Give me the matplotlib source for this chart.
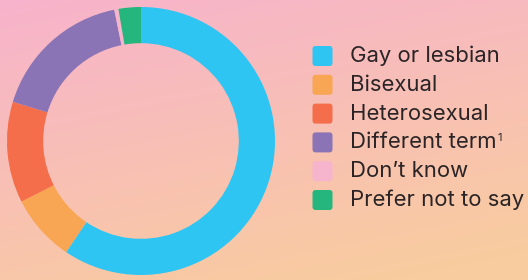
import numpy as np
import matplotlib
matplotlib.use("Agg")
import matplotlib.pyplot as plt
from matplotlib.patches import FancyBboxPatch
from matplotlib.colors import to_rgb

labels = ["Gay or lesbian", "Bisexual", "Heterosexual", "Different term", "Don\u2019t know", "Prefer not to say"]
footnotes = ["", "", "", "1", "", ""]
values = [59.5, 8.1, 12.2, 17.1, 0.5, 2.7]
colors = ["#2ec5f3", "#f8a654", "#f46e4b", "#8a74b5", "#f7b4cd", "#24b67d"]

W, H = 528, 280
fig = plt.figure(figsize=(W / 100, H / 100), dpi=100)

# background gradient
bg = fig.add_axes([0, 0, 1, 1])
bg.set_axis_off()
yy, xx = np.mgrid[0:1:280j, 0:1:528j]
t = np.clip(0.78 * yy + 0.30 * xx, 0, 1)
c0 = np.array(to_rgb("#f7b3cc"))
c1 = np.array(to_rgb("#f9cc9f"))
img = c0[None, None, :] * (1 - t[..., None]) + c1[None, None, :] * t[..., None]
bg.imshow(img, aspect="auto", extent=[0, 1, 0, 1], origin="upper")
bg.set_xlim(0, 1)
bg.set_ylim(0, 1)

# donut
cx, cy, r = 141, 141, 134
ax = fig.add_axes([(cx - r) / W, (H - cy - r) / H, 2 * r / W, 2 * r / H])
ax.set_axis_off()
ax.pie(values, colors=colors, startangle=90, counterclock=False,
       radius=1, wedgeprops=dict(width=0.27, linewidth=0))
ax.set_xlim(-1, 1)
ax.set_ylim(-1, 1)
ax.set_aspect("equal")

# legend
fig.canvas.draw()
renderer = fig.canvas.get_renderer()
lx, ly0, step, sq = 312.5, 56, 28.8, 20
for i, (lab, fn, col) in enumerate(zip(labels, footnotes, colors)):
    yc = ly0 + i * step
    p = FancyBboxPatch(((lx) / W, (H - yc - sq / 2) / H), sq / W, sq / H,
                       boxstyle="round,pad=0,rounding_size=0.006",
                       transform=fig.transFigure, facecolor=col, edgecolor="none",
                       mutation_aspect=W / H)
    fig.patches.append(p)
    txt = fig.text(350.5 / W, (H - yc) / H, lab, fontsize=15.9, family=["Inter", "DejaVu Sans"],
                   color="#2a2426", va="center", ha="left")
    if fn:
        bb = txt.get_window_extent(renderer)
        fig.text((bb.x1 + 1) / W, (H - yc + 9) / H, fn, fontsize=8, family=["Inter", "DejaVu Sans"],
                 color="#2a2426", va="top", ha="left")

fig.savefig("out.png", dpi=100)
